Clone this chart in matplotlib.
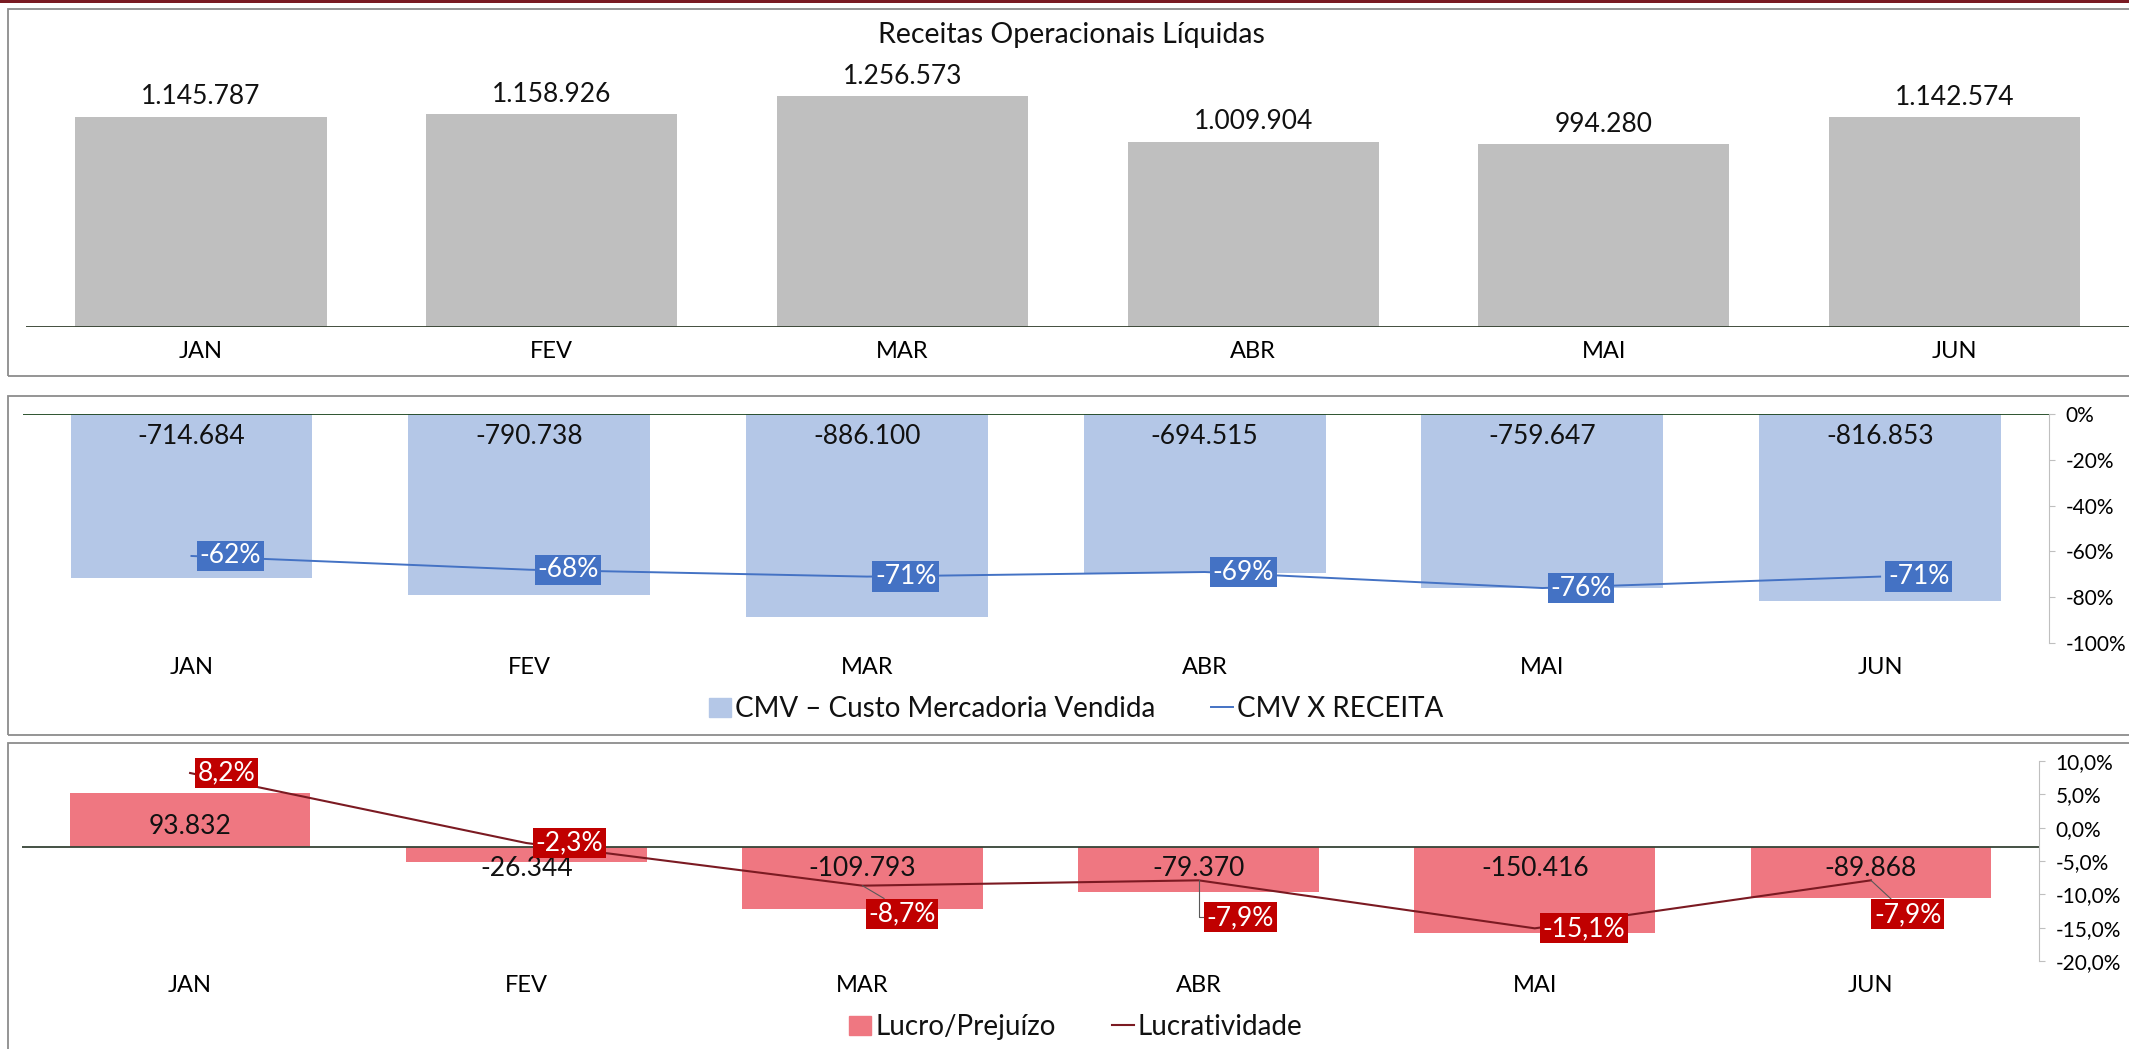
import matplotlib
matplotlib.use("Agg")
import matplotlib.pyplot as plt
from matplotlib.patches import Rectangle, Patch
from matplotlib.lines import Line2D

plt.rcParams['font.family'] = ['Lato', 'DejaVu Sans']
plt.rcParams['text.color'] = '#111111'

# dados
meses = ['JAN', 'FEV', 'MAR', 'ABR', 'MAI', 'JUN']
receita = [1145787, 1158926, 1256573, 1009904, 994280, 1142574]
cmv = [-714684, -790738, -886100, -694515, -759647, -816853]
cmv_pct = [-62, -68, -71, -69, -76, -71]
lucro = [93832, -26344, -109793, -79370, -150416, -89868]
lucrat = [8.2, -2.3, -8.7, -7.9, -15.1, -7.9]

pct2_ticks = [0, -20, -40, -60, -80, -100]
pct3_ticks = [10, 5, 0, -5, -10, -15, -20]

W, H = 2129, 1049
fig = plt.figure(figsize=(W / 100, H / 100), dpi=100)


def px_axes(x0, y0, x1, y1):
    return fig.add_axes([x0 / W, 1 - y1 / H, (x1 - x0) / W, (y1 - y0) / H])


def px_rect(x0, y0, x1, y1, **kw):
    fig.add_artist(Rectangle((x0 / W, 1 - y1 / H), (x1 - x0) / W, (y1 - y0) / H,
                             transform=fig.transFigure, **kw))


def milhar(v):
    return f"{v:,}".replace(',', '.')


def clean(ax, label_pad):
    for s in ax.spines.values():
        s.set_visible(False)
    ax.set_yticks([])
    ax.set_xlim(-0.5, 5.5)
    ax.set_xticks(range(len(meses)))
    ax.set_xticklabels(meses, fontsize=17)
    ax.tick_params(axis='x', length=0, pad=label_pad)
    ax.patch.set_visible(False)


# moldura e linha superior
px_rect(0, 0, W, 3, color='#7A1B23', lw=0)
px_rect(8, 9, W + 10, 376, fill=False, ec='#8C8C8C', lw=1.3)
px_rect(8, 396, W + 10, 735, fill=False, ec='#8C8C8C', lw=1.3)
px_rect(8, 743, W + 10, H + 10, fill=False, ec='#8C8C8C', lw=1.3)

x = list(range(len(meses)))

# --- painel 1: receitas
ax1 = px_axes(25.6, 70, 2130, 327)
ax1.bar(x, receita, width=0.716, color='#BFBFBF', zorder=2)
ax1.set_ylim(0, 1400000)
ax1.axhline(0, color='#34402F', lw=1.3, zorder=3)
clean(ax1, 10)
for i, v in enumerate(receita):
    ax1.annotate(milhar(v), (i, v), xytext=(0, 20), textcoords='offset pixels',
                 ha='center', va='center', fontsize=19)
fig.text(1071 / W, 1 - 35 / H, 'Receitas Operacionais Líquidas', ha='center', va='center', fontsize=20.5)

# --- painel 2: CMV
ax2 = px_axes(22.6, 414, 2049, 643)
ax2.bar(x, cmv, width=0.716, color='#B4C7E7', zorder=2)
ax2.set_ylim(-1000000, 0)
ax2.axhline(0, color='#1E4620', lw=1.3, zorder=3)
clean(ax2, 10)
for i, v in enumerate(cmv):
    ax2.annotate(milhar(v), (i, 0), xytext=(0, -23), textcoords='offset pixels',
                 ha='center', va='center', fontsize=19)

ax2b = ax2.twinx()
ax2b.plot(x, cmv_pct, color='#4472C4', lw=1.4, zorder=4)
ax2b.set_ylim(-100, 0)
ax2b.set_yticks(pct2_ticks)
ax2b.set_yticklabels([f"{t}%" for t in pct2_ticks], fontsize=15)
for k, s in ax2b.spines.items():
    s.set_visible(k == 'right')
ax2b.spines['right'].set_color('#BFBFBF')
ax2b.tick_params(axis='y', length=4, color='#BFBFBF', pad=8)
for i, v in enumerate(cmv_pct):
    ax2b.annotate(f"{v}%", (i, v), xytext=(8, 0), textcoords='offset pixels',
                  ha='left', va='center', fontsize=19, color='white', zorder=6,
                  bbox=dict(boxstyle='square,pad=0.1', fc='#4472C4', ec='none'))

fig.legend(handles=[Patch(color='#B4C7E7', label='CMV – Custo Mercadoria Vendida'),
                    Line2D([], [], color='#4472C4', lw=1.4, label='CMV X RECEITA')],
           loc='center', bbox_to_anchor=(1076 / W, 1 - 709 / H), ncol=2, frameon=False,
           fontsize=20, handlelength=0.8, handleheight=0.7, handletextpad=0.15, columnspacing=2.0)

# --- painel 3: lucro
ax3 = px_axes(22, 761, 2039, 961)
ax3.bar(x, lucro, width=0.716, color='#EF7781', zorder=2)
ax3.set_ylim(-200000, 150000)
ax3.axhline(0, color='#364336', lw=1.3, zorder=3)
clean(ax3, 10)
for i, v in enumerate(lucro):
    off = 20 if v > 0 else -22
    ax3.annotate(milhar(v), (i, 0), xytext=(0, off), textcoords='offset pixels',
                 ha='center', va='center', fontsize=19)

ax3b = ax3.twinx()
ax3b.plot(x, lucrat, color='#7B1A22', lw=1.5, zorder=4)
ax3b.set_ylim(-20, 10)
ax3b.set_yticks(pct3_ticks)
ax3b.set_yticklabels([f"{t:.1f}%".replace('.', ',') for t in pct3_ticks], fontsize=15)
for k, s in ax3b.spines.items():
    s.set_visible(k == 'right')
ax3b.spines['right'].set_color('#BFBFBF')
ax3b.tick_params(axis='y', length=4, color='#BFBFBF', pad=8)

# deslocamento (pixels) dos rótulos de lucratividade
desloc = [(8, 0), (9, 0), (6, -28), (8, -37), (8, 0), (3, -34)]
for i, v in enumerate(lucrat):
    dx, dy = desloc[i]
    arrow = None
    if dy != 0:
        arrow = dict(arrowstyle='-', color='#595959', lw=0.8, shrinkA=0, shrinkB=0,
                     relpos=(0, 0.5) if i == 3 else (0.3, 1))
        if i == 3:
            arrow['connectionstyle'] = 'angle,angleA=180,angleB=90,rad=0'
    ax3b.annotate(f"{v:.1f}%".replace('.', ','), (i, v), xytext=(dx, dy), textcoords='offset pixels',
                  ha='left', va='center', fontsize=19, color='white', zorder=6,
                  bbox=dict(boxstyle='square,pad=0.1', fc='#C00000', ec='none'),
                  arrowprops=arrow)

fig.legend(handles=[Patch(color='#EF7781', label='Lucro/Prejuízo'),
                    Line2D([], [], color='#7B1A22', lw=1.5, label='Lucratividade')],
           loc='center', bbox_to_anchor=(1076 / W, 1 - 1027 / H), ncol=2, frameon=False,
           fontsize=20, handlelength=0.8, handleheight=0.7, handletextpad=0.15, columnspacing=2.0)

fig.savefig('out.png', dpi=100)
